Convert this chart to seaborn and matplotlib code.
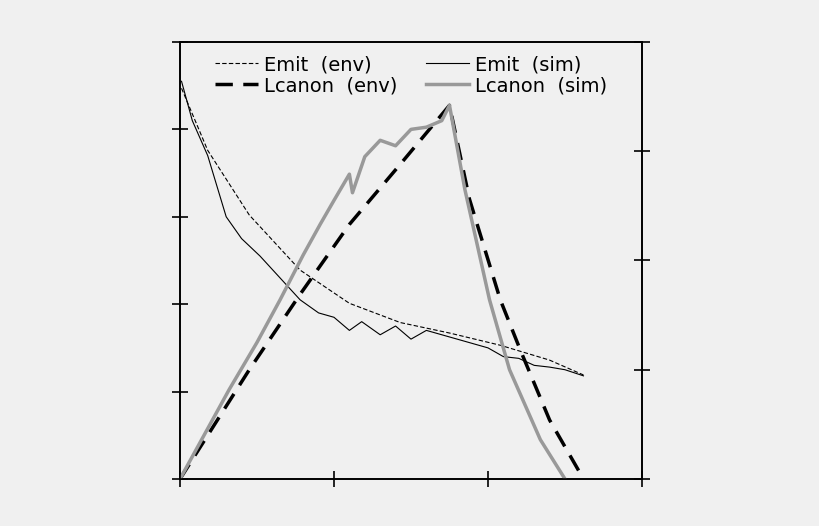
import numpy as np
import pandas as pd
import seaborn as sns
import matplotlib.pyplot as plt

# Emittance curves (left axis)
emit_env_x = [0.01, 0.18, 0.45, 0.78, 1.10, 1.43, 1.75, 2.08, 2.40, 2.62]
emit_env_y = [4.47, 3.76, 3.02, 2.39, 2.01, 1.79, 1.67, 1.53, 1.36, 1.19]
emit_sim_x = [0.01, 0.08, 0.18, 0.30, 0.40, 0.52, 0.65, 0.78, 0.90, 1.00, 1.10, 1.18,
              1.30, 1.40, 1.50, 1.60, 1.70, 1.80, 1.90, 2.00, 2.10, 2.20, 2.30, 2.40, 2.50, 2.62]
emit_sim_y = [4.55, 4.10, 3.70, 3.00, 2.75, 2.55, 2.30, 2.05, 1.90, 1.85, 1.70, 1.80,
              1.65, 1.75, 1.60, 1.70, 1.65, 1.60, 1.55, 1.50, 1.40, 1.38, 1.30, 1.28, 1.25, 1.18]

# Canonical angular momentum (right axis)
lc_env_x = [0.0, 0.45, 0.78, 1.10, 1.43, 1.75, 1.88, 2.08, 2.21, 2.40, 2.62]
lc_env_y = [0.0, 1.00, 1.69, 2.33, 2.88, 3.42, 2.56, 1.64, 1.18, 0.54, 0.0]
lc_sim_x = [0.0, 0.32, 0.50, 0.65, 0.80, 0.91, 1.00, 1.10, 1.12, 1.20, 1.30, 1.40, 1.50,
            1.60, 1.70, 1.75, 1.85, 2.01, 2.14, 2.34, 2.50]
lc_sim_y = [0.0, 0.82, 1.25, 1.64, 2.05, 2.33, 2.55, 2.79, 2.62, 2.95, 3.10, 3.05, 3.20,
            3.22, 3.28, 3.42, 2.65, 1.64, 1.00, 0.36, 0.0]

bg = "#f0f0f0"
fig = plt.figure(figsize=(8.2, 5.26), dpi=100, facecolor=bg)
ax = fig.add_axes([0.2195, 0.0894, 0.5634, 0.8308], facecolor=bg)
ax2 = ax.twinx()

sns.lineplot(x=emit_env_x, y=emit_env_y, ax=ax, color="black", lw=0.8, ls=(0, (4, 2)), label="Emit  (env)")
sns.lineplot(x=emit_sim_x, y=emit_sim_y, ax=ax, color="black", lw=0.8, label="Emit  (sim)")
sns.lineplot(x=lc_env_x, y=lc_env_y, ax=ax2, color="black", lw=2.5, ls=(0, (5, 3)), label="Lcanon  (env)")
sns.lineplot(x=lc_sim_x, y=lc_sim_y, ax=ax2, color="#999999", lw=2.5, label="Lcanon  (sim)")

ax.set_xlim(0, 3)
ax.set_ylim(0, 5)
ax2.set_ylim(0, 4)
ax.set_xticks([0, 1, 2, 3])
ax.set_yticks(range(6))
ax2.set_yticks(range(5))
for a in (ax, ax2):
    a.tick_params(direction="inout", length=12, width=1.2, labelleft=False, labelright=False, labelbottom=False)
    for s in a.spines.values():
        s.set_linewidth(1.2)
ax.tick_params(axis="y", right=False)

h1, l1 = ax.get_legend_handles_labels()
h2, l2 = ax2.get_legend_handles_labels()
ax2.get_legend().remove() if ax2.get_legend() else None
ax.legend([h1[0], h2[0], h1[1], h2[1]], [l1[0], l2[0], l1[1], l2[1]], ncol=2, frameon=False,
          loc="upper center", bbox_to_anchor=(0.5, 1.01), fontsize=14, handlelength=2.2,
          columnspacing=1.5, handletextpad=0.3, labelspacing=0.1)

fig.savefig("out.png", dpi=100, facecolor=bg)
